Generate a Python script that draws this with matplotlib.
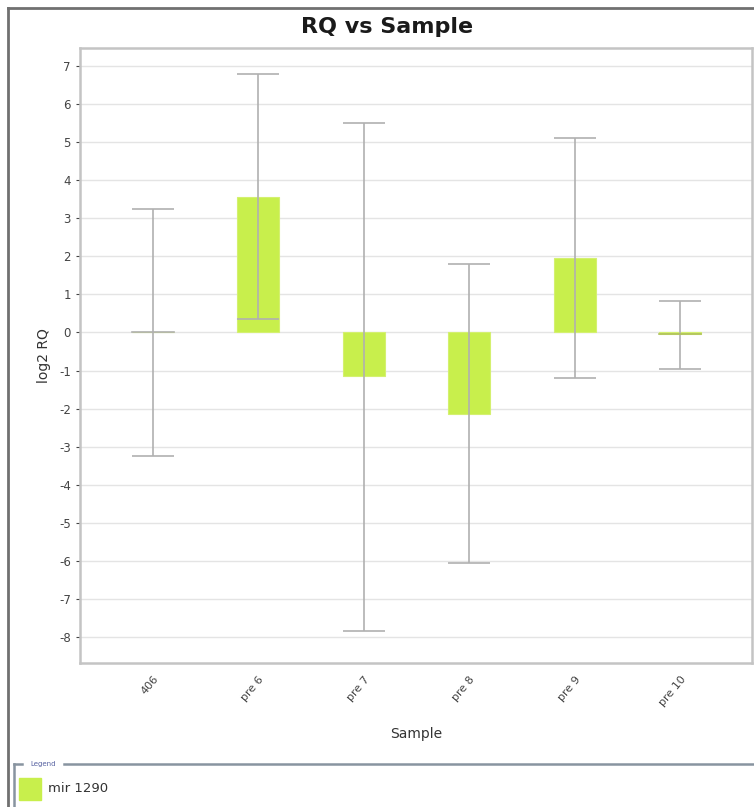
import matplotlib.pyplot as plt
from matplotlib.lines import Line2D
from matplotlib.patches import Rectangle

plt.rcParams["axes.unicode_minus"] = False

# log2 RQ per sample, with the min/max of the error range
samples = ["406", "pre 6", "pre 7", "pre 8", "pre 9", "pre 10"]
log2_rq = [0.0, 3.55, -1.15, -2.15, 1.95, -0.05]
rq_min = [-3.25, 0.35, -7.85, -6.05, -1.2, -0.95]
rq_max = [3.25, 6.78, 5.5, 1.8, 5.1, 0.82]
series = "mir 1290"

W, H = 754, 807
fig = plt.figure(figsize=(W / 100, H / 100), dpi=100)

bar_color = "#c8ef4c"
err_color = "#b0b0b0"

ax = fig.add_axes([80 / W, 1 - 663 / H, 672 / W, 615 / H])
x = list(range(len(samples)))
ax.bar(x, log2_rq, width=0.4, color=bar_color, edgecolor="#d4f070", linewidth=0.8, zorder=2)
lower = [v - lo for v, lo in zip(log2_rq, rq_min)]
upper = [hi - v for v, hi in zip(log2_rq, rq_max)]
ax.errorbar(x, log2_rq, yerr=[lower, upper], fmt="none", ecolor=err_color,
            elinewidth=1.2, capsize=15, capthick=1.2, zorder=3)
# zero-height bars still show as a thin line
for xi, v in zip(x, log2_rq):
    if abs(v) < 0.1:
        ax.plot([xi - 0.2, xi + 0.2], [v, v], color="#b0c060" if v else err_color, lw=1.2, zorder=3)

ax.set_xlim(-0.69, 5.68)
ax.set_ylim(-8.68, 7.47)
ax.set_yticks(range(-8, 8))
ax.set_xticks(x)
ax.set_xticklabels(samples, rotation=50, ha="right", rotation_mode="anchor",
                   fontsize=8, color="#444444")
ax.tick_params(axis="y", labelsize=8.5, colors="#444444", length=3, width=0.8)
ax.tick_params(axis="x", length=0, pad=8)
ax.grid(axis="y", color="#e4e4e4", lw=1.0, zorder=0)
ax.set_axisbelow(True)
for s in ax.spines.values():
    s.set_color("#c4c4c4")
    s.set_linewidth(1.8)

ax.set_ylabel("log2 RQ", fontsize=10, color="#333333", labelpad=6)
ax.set_xlabel("Sample", fontsize=10, color="#333333", labelpad=14)
fig.text(387 / W, 1 - 27 / H, "RQ vs Sample", ha="center", va="center",
         fontsize=16, fontweight="bold", color="#1a1a1a")

# outer panel frame
fig.add_artist(Line2D([8 / W, 8 / W], [0, 1 - 8 / H], color="#707070", lw=2))
fig.add_artist(Line2D([8 / W, 1], [1 - 8 / H, 1 - 8 / H], color="#707070", lw=2))

# legend box below the chart
ly = 1 - 764 / H
fig.add_artist(Line2D([64 / W, 1], [ly, ly], color="#8894a0", lw=1.8))
fig.add_artist(Line2D([14 / W, 22 / W], [ly, ly], color="#8894a0", lw=1.8))
fig.add_artist(Line2D([14 / W, 14 / W], [0, ly], color="#8894a0", lw=1.8))
fig.text(43 / W, ly, "Legend", fontsize=5, color="#5560a0", ha="center", va="center")
fig.add_artist(Rectangle((19 / W, 1 - 800 / H), 22 / W, 22 / H, color=bar_color,
                         transform=fig.transFigure))
fig.text(48 / W, 1 - 789 / H, series, fontsize=9.5, color="#333333", va="center")

fig.savefig("out.png", dpi=100)
